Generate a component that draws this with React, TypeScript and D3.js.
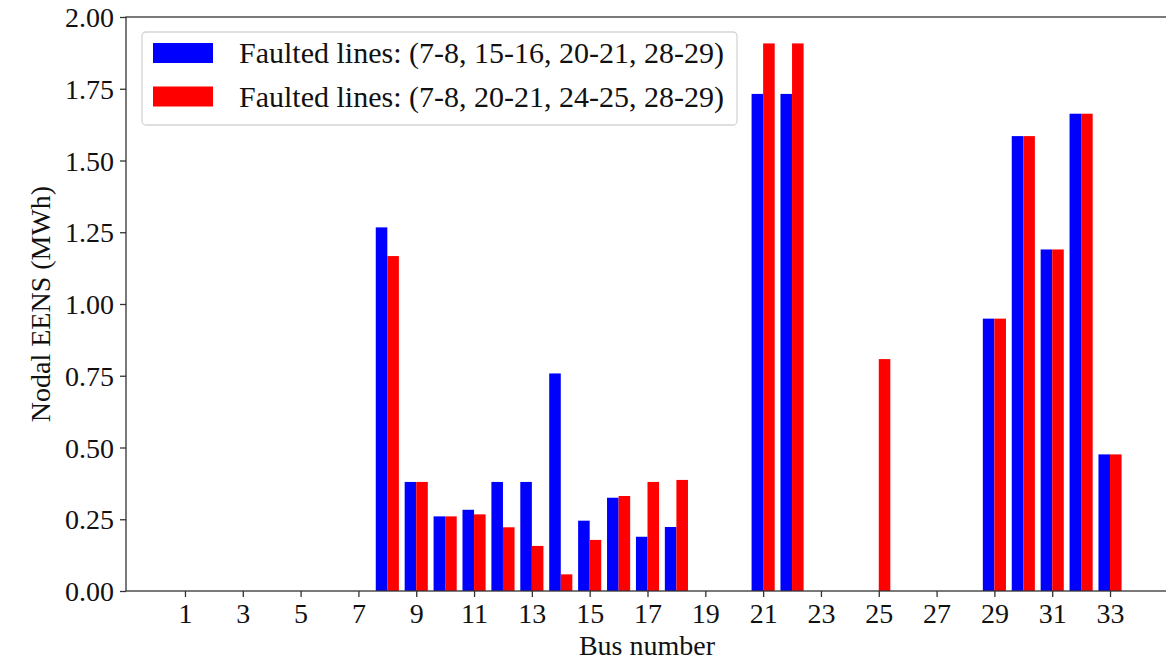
import { useEffect, useRef } from "react";
import * as d3 from "d3";

const buses = d3.range(1, 34);
const seriesA = [
    0, 0, 0, 0, 0, 0, 0, 1.267, 0.38, 0.26, 0.283, 0.38, 0.38, 0.758, 0.245, 0.325, 0.189,
    0.223, 0, 0, 1.732, 1.732, 0, 0, 0, 0, 0, 0, 0.949, 1.585, 1.19, 1.663, 0.476,
];
const seriesB = [
    0, 0, 0, 0, 0, 0, 0, 1.167, 0.38, 0.26, 0.267, 0.222, 0.157, 0.058, 0.178, 0.331, 0.38,
    0.387, 0, 0, 1.908, 1.908, 0, 0, 0.808, 0, 0, 0, 0.949, 1.585, 1.19, 1.663, 0.476,
];
const labels = [
    "Faulted lines: (7-8, 15-16, 20-21, 28-29)",
    "Faulted lines: (7-8, 20-21, 24-25, 28-29)",
];
const colors = ["#0000ff", "#ff0000"];
const xTicks = d3.range(1, 34, 2);
const yTicks = [0, 0.25, 0.5, 0.75, 1.0, 1.25, 1.5, 1.75, 2.0];

const font = "'Liberation Serif', 'Times New Roman', serif";

const App = () => {
    const ref = useRef<SVGSVGElement>(null);

    useEffect(() => {
        const svg = d3.select(ref.current);
        svg.selectAll("*").remove();

        const x = d3.scaleLinear().domain([-1.04, 35.04]).range([126, 1169]);
        const y = d3.scaleLinear().domain([0, 2]).range([591, 17]);
        const barW = 0.4;

        // bars
        [seriesA, seriesB].forEach((vals, s) => {
            svg.append("g")
                .selectAll("rect")
                .data(buses.map((b, i) => ({ b, v: vals[i] })).filter(d => d.v > 0))
                .join("rect")
                .attr("x", d => x(d.b + (s === 0 ? -barW : 0)))
                .attr("width", x(barW) - x(0))
                .attr("y", d => y(d.v))
                .attr("height", d => y(0) - y(d.v))
                .attr("fill", colors[s]);
        });

        // axes
        const xAxis = d3.axisBottom(x).tickValues(xTicks).tickFormat(d3.format("d")).tickSize(6).tickPadding(6);
        const yAxis = d3.axisLeft(y).tickValues(yTicks).tickFormat(d3.format(".2f")).tickSize(6).tickPadding(6);

        const gx = svg.append("g").attr("transform", "translate(0,591)").call(xAxis);
        const gy = svg.append("g").attr("transform", "translate(126,0)").call(yAxis);
        [gx, gy].forEach(g => {
            g.select(".domain").remove();
            g.selectAll("line").attr("stroke", "#333").attr("stroke-width", 1.3);
            g.selectAll("text")
                .attr("fill", "#111")
                .style("font-family", font)
                .style("font-size", "28px");
        });
        gy.selectAll("text").attr("dy", "0.34em");

        // frame
        svg.append("rect")
            .attr("x", 126).attr("y", 17)
            .attr("width", 1169 - 126).attr("height", 591 - 17)
            .attr("fill", "none").attr("stroke", "#333").attr("stroke-width", 1.3);

        // axis labels
        svg.append("text")
            .attr("x", 647).attr("y", 655)
            .attr("text-anchor", "middle")
            .style("font-family", font).style("font-size", "28px").attr("fill", "#111")
            .text("Bus number");
        svg.append("text")
            .attr("transform", "translate(50,304) rotate(-90)")
            .attr("text-anchor", "middle")
            .style("font-family", font).style("font-size", "28px").attr("fill", "#111")
            .text("Nodal EENS (MWh)");

        // legend
        const lg = svg.append("g");
        lg.append("rect")
            .attr("x", 142).attr("y", 32).attr("width", 595).attr("height", 93)
            .attr("rx", 4).attr("fill", "white").attr("fill-opacity", 0.8)
            .attr("stroke", "#d5d5d5").attr("stroke-width", 1.3);
        labels.forEach((t, i) => {
            const cy = 53 + i * 43.5;
            lg.append("rect")
                .attr("x", 153).attr("y", cy - 10).attr("width", 60).attr("height", 20)
                .attr("fill", colors[i]);
            lg.append("text")
                .attr("x", 239).attr("y", cy + 10)
                .style("font-family", font).style("font-size", "30px").attr("fill", "#111")
                .text(t);
        });
    }, []);

    return (
        <svg
            ref={ref}
            width={1166}
            height={664}
            style={{ position: "absolute", left: 0, top: 0, background: "white" }}
        />
    );
};

export default App;
